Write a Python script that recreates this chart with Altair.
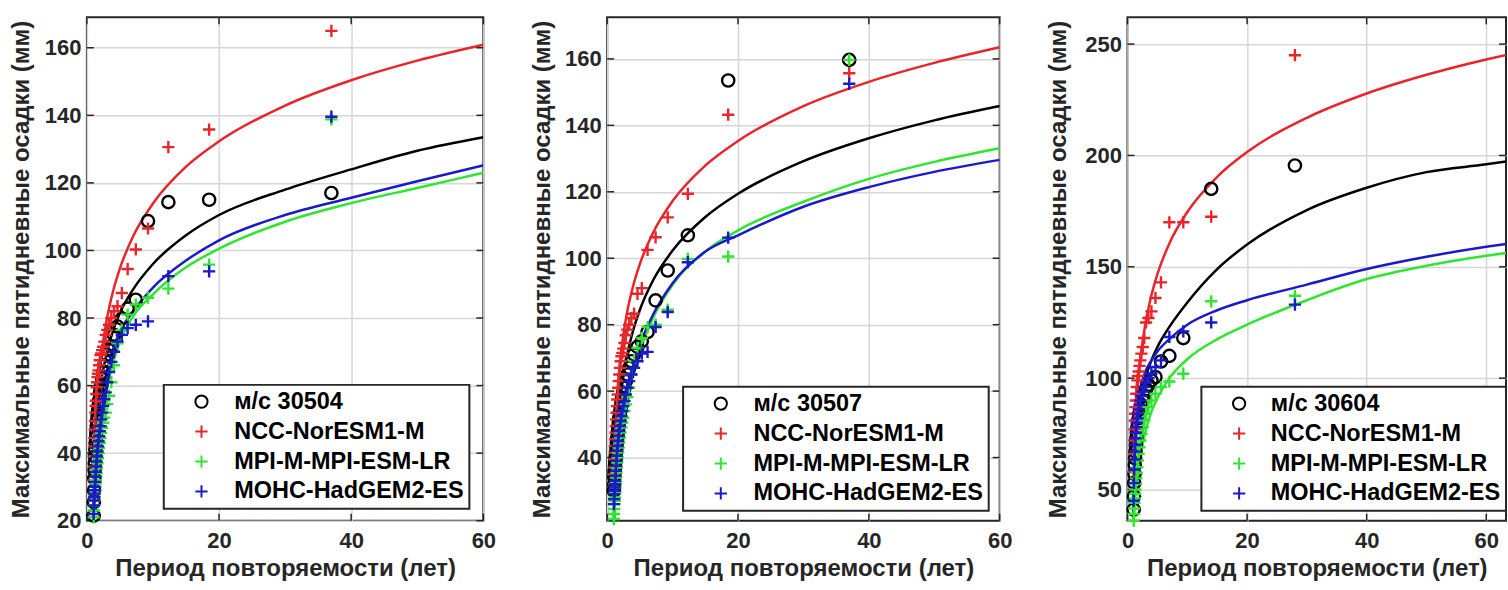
import altair as alt
import pandas as pd

FONT = "Liberation Sans"
TXT = "#262626"
COLORS = ["#000000", "#e8262a", "#2ee62e", "#1a1acc"]
PLUS = "M-1,0L1,0M0,-1L0,1"
XTITLE = "Период повторяемости (лет)"
YTITLE = "Максимальные пятидневные осадки (мм)"
MODELS = ["NCC-NorESM1-M", "MPI-M-MPI-ESM-LR", "MOHC-HadGEM2-ES"]
X_TICKS = [0, 20, 40, 60]

# ---------- return periods of the plotted points (years) ----------
T_36 = [37.0, 18.5, 12.33, 9.25, 7.4, 6.17, 5.29, 4.63, 4.11, 3.7,
        3.36, 3.08, 2.85, 2.64, 2.47, 2.31, 2.18, 2.06, 1.95, 1.85,
        1.76, 1.68, 1.61, 1.54, 1.48, 1.42, 1.37, 1.32, 1.28, 1.23,
        1.19, 1.16, 1.12, 1.09, 1.06, 1.03]
T_27 = [28.0, 14.0, 9.33, 7.0, 5.6, 4.67, 4.0, 3.5, 3.11, 2.8,
        2.55, 2.33, 2.15, 2.0, 1.87, 1.75, 1.65, 1.56, 1.47, 1.4,
        1.33, 1.27, 1.22, 1.17, 1.12, 1.08, 1.04]

# ---------- panel 1: station 30504 ----------
obs1 = [117, 115, 114.3, 108.7, 85.4, 82.8, 79.8, 77.5, 75, 71.6,
        70.5, 69, 67.5, 66, 64, 62, 60, 59, 57.5, 55.5,
        54, 52.5, 51, 49.5, 48, 46, 44.5, 43, 41, 39,
        37, 35, 32.5, 29, 25.5, 21.5]
ncc1 = [165, 135.8, 130.6, 106.5, 100.3, 94.5, 87.4, 83.5, 82, 80,
        78, 76.5, 75, 73, 71.5, 70.5, 69.5, 69, 67.5, 66,
        64.5, 63.5, 62.5, 61, 59.5, 57.5, 55.5, 54, 52, 49.5,
        47, 44.5, 42, 39, 36, 32]
mpi1 = [138.8, 95.8, 88.7, 86, 84, 81, 76.5, 72.5, 66, 61,
        57, 54.5, 52, 50.5, 49, 47.5, 46, 44.5, 43, 41.5,
        40, 38.5, 37, 35.5, 34, 33, 32, 31, 30, 29,
        28, 27, 26, 24.5, 23, 21]
mohc1 = [139.6, 93.8, 92.4, 79, 78, 77, 75, 73, 70, 67,
         64, 61, 58, 56, 54, 52, 50, 48, 46.5, 45,
         43.5, 42, 40.5, 39, 37.5, 36, 34.5, 33, 31.5, 30,
         29, 28, 27, 26, 24.5, 22]

# ---------- panel 2: station 30507 ----------
obs2 = [159.7, 153.5, 106.9, 96.3, 87.3, 77.8, 75, 73.3, 71, 69,
        67, 65, 63, 61, 59.5, 58, 56.5, 55, 53.5, 52,
        50.5, 49, 47.5, 46, 44.5, 43, 41.5, 40.5, 39.5, 38.5,
        37.5, 36.5, 35.5, 34, 32, 30]
ncc2 = [155.7, 143.2, 119.4, 112.3, 106.3, 102.5, 91, 89.3, 83.3, 82,
        80, 78.5, 76.8, 74.5, 72.8, 71.5, 70.5, 69, 67, 65,
        63, 61, 59, 57.5, 55.5, 53.5, 51.5, 49.5, 47.5, 45.5,
        43.5, 41.5, 39.5, 37, 35, 32]
mpi2 = [159.7, 100.5, 99.8, 84.5, 80, 79.3, 76, 73, 69, 65,
        61, 58.2, 56, 54, 52, 50.5, 49, 47.5, 46, 44.5,
        43, 41.5, 40, 38.5, 37, 35.5, 34, 32.5, 31, 29.5,
        28, 27, 26, 24.5, 23, 21.5]
mohc2 = [152.5, 106.2, 98.8, 83.8, 79.3, 71.8, 71.3, 69, 67, 65,
         63, 61, 59, 57, 55.5, 54, 52.5, 51, 49.5, 48,
         46.5, 45, 43.5, 42, 40.5, 39, 37.5, 36, 34.5, 33,
         32, 31, 30, 29, 27.5, 26]

# ---------- panel 3: station 30604 ----------
obs3 = [195.5, 185, 118, 110, 107.5, 100.5, 99, 97, 95, 92,
        90, 88, 86, 84, 82, 80, 78, 75.5, 73, 70,
        67, 64, 61, 57, 53, 47, 41]
ncc3 = [245, 172.5, 170, 170, 143, 136, 130, 127, 125, 118,
        114, 111, 108, 105.5, 103, 101, 99, 96, 93, 90,
        87, 84, 81, 77, 72, 66, 58]
mpi3 = [137, 134.5, 102, 98.5, 96, 93, 90, 87, 84, 81,
        78, 75, 72, 69, 66, 63, 60, 57.5, 55, 52.5,
        50, 48, 46, 44, 41.5, 39, 36]
mohc3 = [133, 125, 121, 118.5, 108, 105, 102, 100, 98, 96,
         94, 92, 90, 88, 86, 84, 82, 80, 78, 75.5,
         73, 70, 67, 63.5, 59, 53, 45]

# ---------- fitted curves, read at these return periods ----------
CT = [1.02, 1.05, 1.1, 1.2, 1.35, 1.5, 1.75, 2, 2.5, 3, 4, 5, 7, 10, 15, 20, 30, 40, 50, 60]
CT3 = CT + [64]

c_obs1 = [20, 26, 32, 40, 46, 50.5, 55.5, 59.5, 65, 69.5, 76.5, 81.5, 88.5, 96, 104.5, 110.5, 118, 124, 129.5, 133.5]
c_ncc1 = [21.3, 27.8, 33.9, 41.4, 48.6, 53.9, 60.5, 65.7, 73.5, 79.4, 88.2, 94.7, 104.2, 113.9, 124.8, 132.3, 142.9, 150.4, 156.2, 160.9]
c_mpi1 = [20, 22.5, 26, 31, 35, 37.5, 42, 47, 54, 59, 67, 73, 80.5, 87, 95, 100.5, 108.5, 114, 118.5, 123]
c_mohc1 = [21, 23, 27, 32, 37, 41, 47, 53, 60, 64, 71, 76, 82, 89, 97, 103, 110.5, 115.6, 120.5, 125.2]

c_obs2 = [16.5, 22.6, 28.3, 35.2, 41.9, 46.8, 52.9, 57.7, 64.9, 70.4, 78.5, 84.5, 93.3, 102.3, 112.4, 119.4, 129.2, 136.1, 141.5, 145.8]
c_ncc2 = [26, 32.5, 38.5, 45.8, 53, 58.1, 64.7, 69.7, 77.4, 83.3, 91.9, 98.3, 107.6, 117.2, 127.9, 135.3, 145.8, 153.1, 158.8, 163.5]
c_mpi2 = [17, 21.5, 25, 29, 33, 36, 40.5, 45, 53, 57.5, 65.5, 72, 82, 92, 102, 108.4, 117, 123.9, 129, 133.1]
c_mohc2 = [18, 24, 29, 34, 38, 41, 45.5, 49.5, 56, 61, 68, 74, 83, 92.5, 102, 106.9, 115.5, 121.4, 126, 129.6]

c_obs3 = [37, 45, 53, 62, 70, 76, 83, 88, 95, 100, 108, 114, 123, 134, 149, 160, 175.5, 185.5, 192.5, 196, 197.5]
c_ncc3 = [39.6, 49.2, 58.1, 69, 79.5, 87.2, 96.9, 104.4, 115.8, 124.4, 137.2, 146.7, 160.5, 174.6, 190.4, 201.5, 216.9, 227.8, 236.2, 243.1, 245.5]
c_mpi3 = [36, 38, 41, 45, 48, 52, 57, 62, 70, 76, 85, 91, 100, 108.5, 117.5, 124, 135, 144.5, 150.5, 155, 156.5]
c_mohc3 = [40, 48, 56, 66, 75, 81, 88, 93, 99, 103, 108, 112, 117.5, 124, 130.5, 135, 142, 149, 154.5, 159, 160.5]


def panel(station, T, series, CTs, curves, xmax, ydom, yticks, width, ext, legx, legy, lab_off):
    names = ["м/с " + station] + MODELS
    pts = pd.concat([pd.DataFrame({"T": T, "v": vals, "s": nm}) for nm, vals in zip(names, series)],
                    ignore_index=True)
    xs = alt.Scale(domain=[0, xmax], nice=False, zero=False)
    ys = alt.Scale(domain=ydom, nice=False, zero=False)
    cs = alt.Scale(domain=names, range=COLORS)
    ss = alt.Scale(domain=names, range=["circle", PLUS, PLUS, PLUS])
    xaxis = alt.Axis(values=X_TICKS, title=XTITLE, labelFlush=False, grid=True)
    yaxis = alt.Axis(values=yticks, title=YTITLE, grid=True, minExtent=ext, maxExtent=ext)
    leg = alt.Legend(title=None, orient="none", legendX=legx, legendY=legy,
                     strokeColor=TXT, fillColor="white", padding=5,
                     labelFont=FONT, labelFontSize=23.5, labelFontWeight="bold", labelColor="#000000",
                     symbolSize=150, symbolStrokeWidth=2, symbolOffset=21, labelOffset=lab_off,
                     rowPadding=5, labelLimit=500)
    H = 504
    layers = []
    for col, vals in zip(COLORS, curves):
        crv = pd.DataFrame({"T": CTs, "v": vals})
        layers.append(
            alt.Chart(crv).mark_line(clip=True, strokeWidth=2.5, interpolate="monotone", color=col).encode(
                x=alt.X("T:Q", scale=xs, axis=xaxis),
                y=alt.Y("v:Q", scale=ys, axis=yaxis),
            )
        )
    xt = pd.DataFrame({"T": X_TICKS})
    yt = pd.DataFrame({"v": yticks})
    layers.append(alt.Chart(xt).mark_rule(color=TXT, strokeWidth=1.5).encode(
        x=alt.X("T:Q", scale=xs, axis=xaxis), y=alt.value(0), y2=alt.value(7)))
    layers.append(alt.Chart(xt).mark_rule(color=TXT, strokeWidth=1.5).encode(
        x=alt.X("T:Q", scale=xs, axis=xaxis), y=alt.value(H - 7), y2=alt.value(H)))
    layers.append(alt.Chart(yt).mark_rule(color=TXT, strokeWidth=1.5).encode(
        y=alt.Y("v:Q", scale=ys, axis=yaxis), x=alt.value(0), x2=alt.value(7)))
    layers.append(alt.Chart(yt).mark_rule(color=TXT, strokeWidth=1.5).encode(
        y=alt.Y("v:Q", scale=ys, axis=yaxis), x=alt.value(width - 7), x2=alt.value(width)))
    layers.append(alt.Chart(pts).mark_point(size=150, strokeWidth=2.4, filled=False, opacity=1).encode(
        x=alt.X("T:Q", scale=xs, axis=xaxis),
        y=alt.Y("v:Q", scale=ys, axis=yaxis),
        color=alt.Color("s:N", scale=cs, legend=leg),
        shape=alt.Shape("s:N", scale=ss, legend=leg),
    ))
    return alt.layer(*layers).properties(width=width, height=H)


p1 = panel("30504", T_36, [obs1, ncc1, mpi1, mohc1], CT, [c_obs1, c_ncc1, c_mpi1, c_mohc1],
           60, [20, 169], [20, 40, 60, 80, 100, 120, 140, 160], 397, 46, 77, 368, 21)
p2 = panel("30507", T_36, [obs2, ncc2, mpi2, mohc2], CT, [c_obs2, c_ncc2, c_mpi2, c_mohc2],
           60, [21, 172.5], [40, 60, 80, 100, 120, 140, 160], 393, 46, 76, 370, 21)
p3 = panel("30604", T_27, [obs3, ncc3, mpi3, mohc3], CT3, [c_obs3, c_ncc3, c_mpi3, c_mohc3],
           63.3, [36, 262], [50, 100, 150, 200, 250], 379, 50, 74, 370, 20)

chart = alt.hconcat(p1, p2, p3, spacing=31).resolve_scale(
    x="independent", y="independent", color="independent", shape="independent"
).resolve_legend(color="independent", shape="independent").properties(
    padding={"left": 8, "top": 15, "right": 0, "bottom": 0},
    background="white",
).configure_axis(
    labelFont=FONT, labelFontSize=22, labelFontWeight="bold", labelColor=TXT,
    titleFont=FONT, titleFontSize=24, titleFontWeight="bold", titleColor=TXT,
    ticks=False, domain=False, gridColor="#d6d6d6", gridWidth=1.5,
).configure_axisX(labelPadding=10, titlePadding=5).configure_axisY(
    labelPadding=6, titlePadding=7
).configure_legend(strokeWidth=2).configure_view(stroke=TXT, strokeWidth=2)

chart.save("out.html", embed_options={"renderer": "svg", "actions": False})
